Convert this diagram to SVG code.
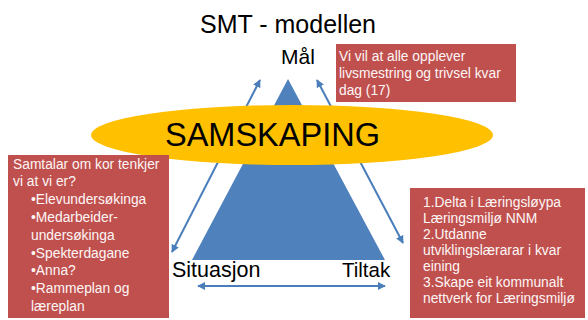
<svg xmlns="http://www.w3.org/2000/svg" width="588" height="320" viewBox="0 0 588 320">
  <style>
    .t { font-family: "Liberation Sans", Arial, sans-serif; fill: #000; }
    .box { fill: #c0504d; }
    .bt { font-family: "Liberation Sans", Arial, sans-serif; font-size: 13.8px; fill: #fdf6f6; }
    .conn { stroke: #4a7ebb; stroke-width: 2; fill: none; marker-start: url(#ah); marker-end: url(#ah); }
  </style>
  <defs>
    <marker id="ah" viewBox="0 0 10 10" refX="9" refY="5" markerWidth="4" markerHeight="4" orient="auto-start-reverse" markerUnits="strokeWidth">
      <path d="M0,0 L10,5 L0,10 Z" fill="#4a7ebb"/>
    </marker>
  </defs>
  <rect width="588" height="320" fill="#fff"/>

  <g id="title">
    <text class="t" x="200" y="33" font-size="25">SMT - modellen</text>
  </g>

  <g id="triangle">
    <polygon points="288,79 192,260 385,260" fill="#4f81bd"/>
  </g>

  <g id="connectors">
    <line class="conn" x1="260" y1="80" x2="172" y2="252"/>
    <line class="conn" x1="317" y1="80" x2="403" y2="243"/>
    <line class="conn" x1="198" y1="286" x2="385" y2="286"/>
  </g>

  <g id="samskaping">
    <ellipse cx="292" cy="135" rx="201" ry="30" fill="#ffc000"/>
    <text class="t" x="165" y="146" font-size="32.5">SAMSKAPING</text>
  </g>

  <g id="maal">
    <text class="t" x="281" y="64" font-size="21">Mål</text>
  </g>

  <g id="situasjon">
    <text class="t" x="172" y="277" font-size="21.5">Situasjon</text>
  </g>

  <g id="tiltak">
    <text class="t" x="342" y="277" font-size="20.5">Tiltak</text>
  </g>

  <g id="box-maal">
    <rect class="box" x="336" y="44" width="180" height="58"/>
    <text class="bt" x="339" y="61">Vi vil at alle opplever</text>
    <text class="bt" x="339" y="78">livsmestring og trivsel kvar</text>
    <text class="bt" x="339" y="95">dag (17)</text>
  </g>

  <g id="box-situasjon">
    <rect class="box" x="8" y="155" width="161" height="163"/>
    <text class="bt" x="13" y="168.5">Samtalar om kor tenkjer</text>
    <text class="bt" x="13" y="186.3">vi at vi er?</text>
    <text class="bt" x="31" y="204.1">•Elevundersøkinga</text>
    <text class="bt" x="31" y="221.9">•Medarbeider-</text>
    <text class="bt" x="31" y="239.7">undersøkinga</text>
    <text class="bt" x="31" y="257.5">•Spekterdagane</text>
    <text class="bt" x="31" y="275.3">•Anna?</text>
    <text class="bt" x="31" y="293.1">•Rammeplan og</text>
    <text class="bt" x="31" y="310.9">læreplan</text>
  </g>

  <g id="box-tiltak">
    <rect class="box" x="410" y="188" width="175" height="130"/>
    <text class="bt" x="423" y="207" font-size="14.3">1.Delta i Læringsløypa</text>
    <text class="bt" x="423" y="223" font-size="14.3">Læringsmiljø NNM</text>
    <text class="bt" x="423" y="239" font-size="14.3">2.Utdanne</text>
    <text class="bt" x="423" y="255" font-size="14.3">utviklingslærarar i kvar</text>
    <text class="bt" x="423" y="271" font-size="14.3">eining</text>
    <text class="bt" x="423" y="287" font-size="14.3">3.Skape eit kommunalt</text>
    <text class="bt" x="423" y="303" font-size="14.3">nettverk for Læringsmiljø</text>
  </g>
</svg>
